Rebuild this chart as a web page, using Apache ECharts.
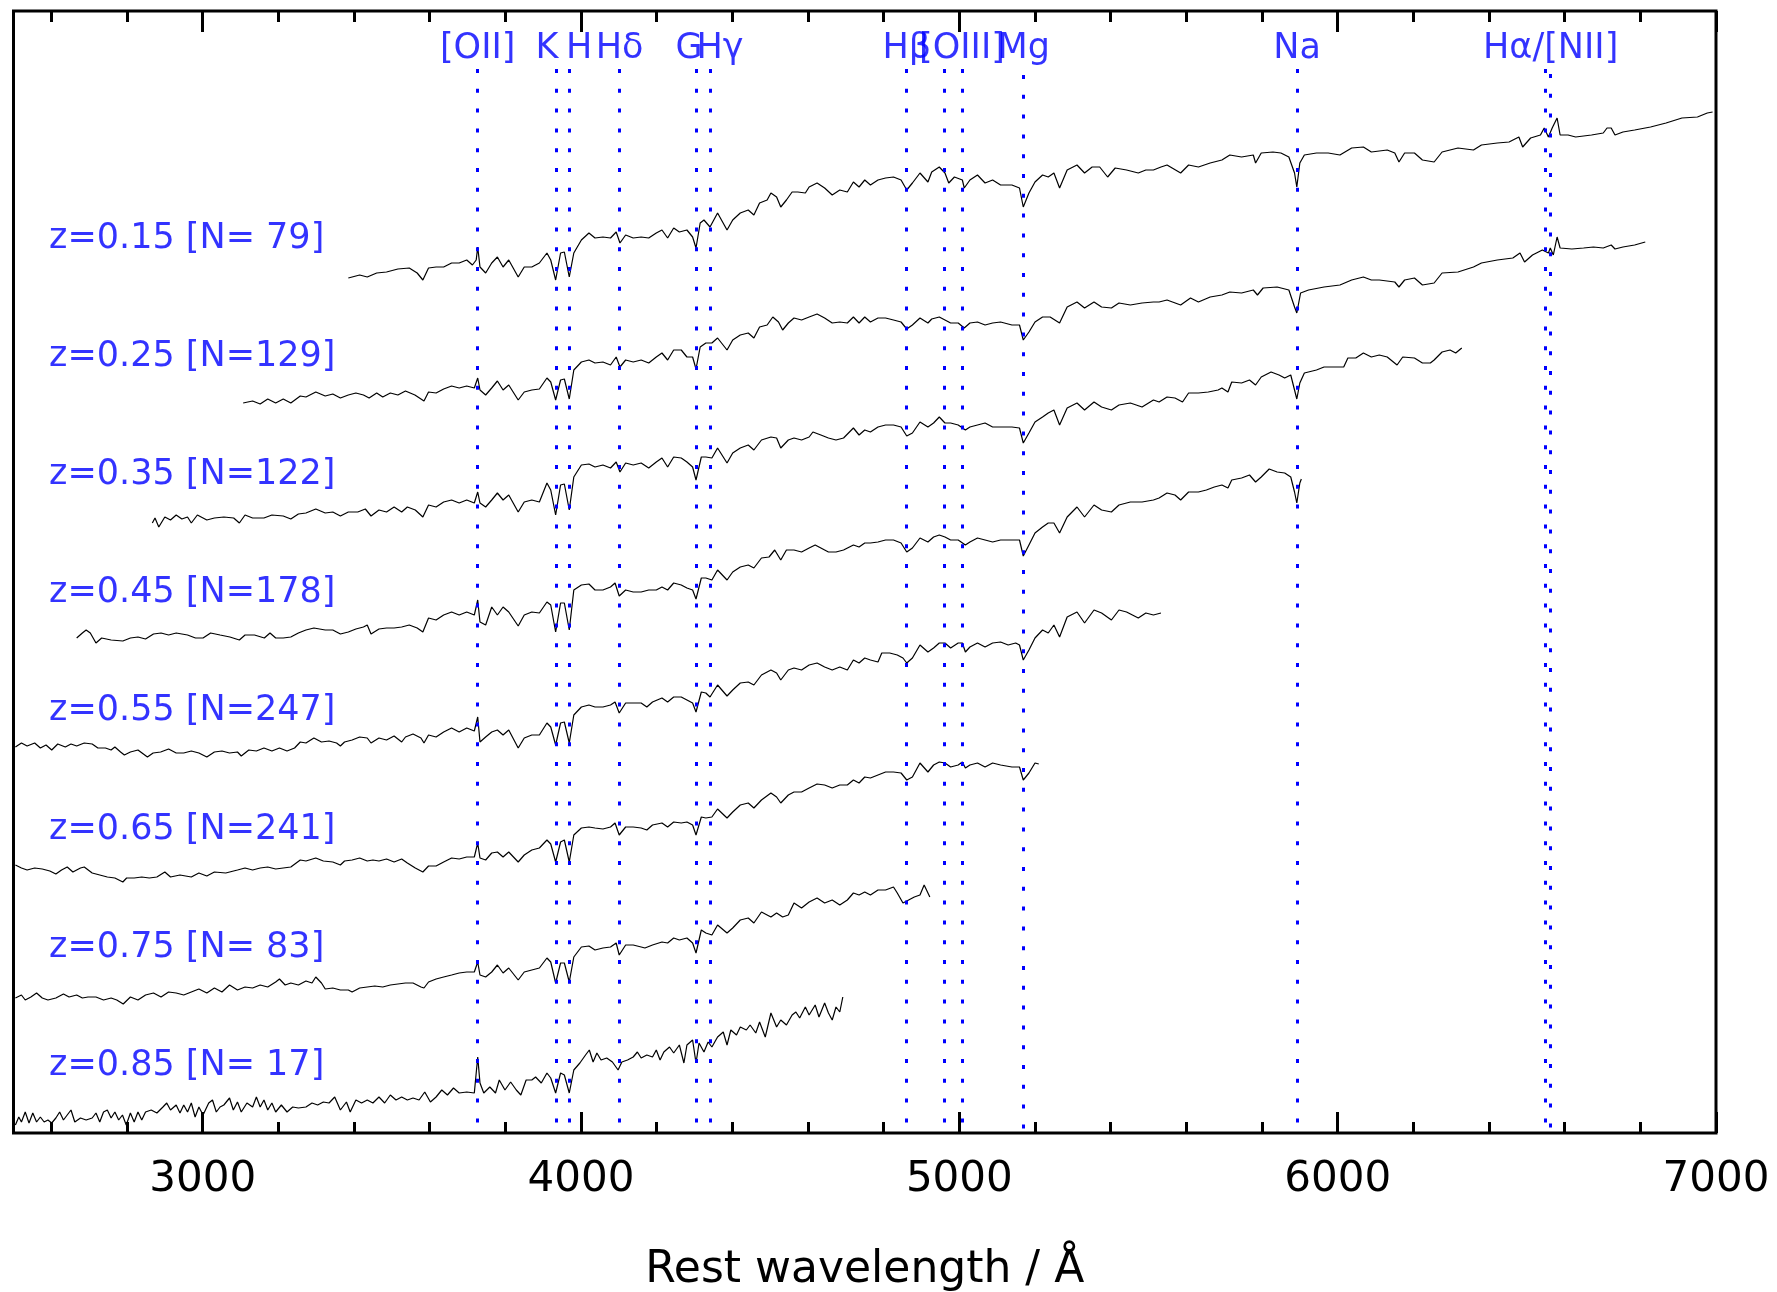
<!DOCTYPE html>
<html><head><meta charset="utf-8">
<script src="https://cdn.jsdelivr.net/npm/echarts@6/dist/echarts.min.js"></script>
<style>html,body{margin:0;padding:0;background:#fff}#c{width:1777px;height:1292px}</style>
</head><body><div id="c"></div>
<script>
// ---------------- data ----------------
const redshifts = [0.15, 0.25, 0.35, 0.45, 0.55, 0.65, 0.75, 0.85];
const counts = [79, 129, 122, 178, 247, 241, 83, 17];

const majorTicks = [3000, 4000, 5000, 6000, 7000];
const minorTicks = [2600, 2800, 3200, 3400, 3600, 3800, 4200, 4400, 4600, 4800, 5200, 5400, 5600, 5800, 6200, 6400, 6600, 6800];

// spectral features (rest wavelength, Angstrom)
const lineWavelengths = [3727, 3934, 3969, 4102, 4304, 4341, 4861, 4959, 5007, 5170, 5893, 6548, 6563];
const labelNames = ['[OII]', 'K', 'H', 'Hδ', 'G', 'Hγ', 'Hβ', '[OIII]', 'Mg', 'Na', 'Hα/[NII]'];
const labelWavelengths = [3727, 3934, 3969, 4102, 4304, 4341, 4861, 5007, 5170, 5893, 6563];

// stacked spectra: [rest wavelength, flux + offset (arbitrary units)]
const spec_z015 = [[3385,855],[3415,858],[3435,856],[3460,860],[3486,861],[3516,864],[3546,865],[3567,860],[3582,853],[3597,865],[3617,866],[3637,866],[3658,870],[3678,870],[3698,873],[3713,868],[3723,873],[3727,886],[3733,866],[3748,860],[3764,870],[3779,876],[3794,866],[3809,873],[3834,856],[3850,866],[3870,866],[3890,870],[3910,880],[3920,873],[3933,853],[3946,880],[3956,881],[3969,856],[3981,880],[4001,893],[4021,900],[4037,895],[4058,896],[4078,895],[4093,901],[4103,890],[4118,898],[4138,895],[4159,896],[4179,895],[4199,900],[4214,903],[4229,895],[4245,905],[4260,901],[4280,903],[4295,896],[4304,885],[4315,910],[4325,913],[4341,906],[4361,920],[4386,903],[4401,913],[4421,920],[4442,923],[4457,918],[4472,930],[4492,933],[4502,940],[4517,936],[4528,926],[4543,933],[4558,941],[4573,941],[4593,940],[4603,946],[4624,950],[4644,945],[4664,938],[4684,943],[4704,941],[4720,951],[4735,946],[4750,953],[4765,948],[4785,953],[4805,955],[4826,956],[4846,953],[4861,943],[4876,950],[4896,960],[4917,951],[4927,961],[4947,966],[4962,960],[4972,950],[4987,956],[5008,953],[5013,945],[5028,953],[5048,958],[5068,950],[5088,953],[5109,948],[5139,948],[5159,945],[5169,926],[5184,940],[5200,951],[5220,958],[5235,956],[5250,960],[5265,945],[5285,963],[5311,968],[5331,960],[5351,966],[5371,966],[5392,956],[5412,965],[5442,963],[5473,960],[5493,963],[5513,963],[5533,966],[5549,968],[5585,960],[5606,968],[5632,966],[5663,970],[5694,973],[5715,978],[5746,976],[5777,978],[5783,970],[5798,980],[5829,981],[5850,980],[5871,976],[5886,960],[5892,946],[5900,970],[5912,978],[5944,980],[5975,980],[6006,978],[6037,985],[6068,986],[6089,981],[6131,983],[6151,980],[6162,971],[6177,980],[6203,980],[6224,973],[6255,971],[6276,981],[6318,985],[6359,983],[6380,988],[6422,990],[6453,991],[6479,996],[6489,986],[6510,995],[6536,998],[6546,1005],[6557,996],[6567,1005],[6580,1015],[6588,998],[6609,998],[6629,996],[6671,998],[6702,1000],[6712,1005],[6723,1005],[6733,998],[6754,1001],[6785,1003],[6827,1006],[6868,1010],[6910,1015],[6951,1016],[6977,1020],[6991,1021]];

const spec_z025 = [[3107,730],[3132,732],[3152,729],[3172,734],[3193,730],[3213,734],[3233,730],[3258,737],[3273,736],[3299,741],[3324,737],[3344,739],[3364,735],[3385,738],[3405,740],[3425,738],[3440,735],[3460,740],[3476,736],[3496,740],[3516,738],[3536,742],[3561,738],[3585,732],[3597,741],[3617,740],[3637,744],[3658,747],[3678,745],[3698,747],[3718,745],[3727,755],[3733,743],[3748,738],[3764,745],[3779,752],[3794,743],[3809,748],[3834,733],[3850,741],[3870,743],[3890,744],[3910,755],[3920,751],[3933,733],[3946,753],[3956,754],[3969,734],[3981,763],[4001,771],[4021,773],[4037,770],[4058,771],[4078,768],[4093,776],[4103,766],[4118,773],[4138,771],[4159,773],[4179,770],[4199,776],[4214,780],[4229,773],[4245,783],[4265,783],[4280,776],[4295,776],[4304,764],[4315,786],[4330,790],[4346,790],[4361,795],[4386,783],[4401,793],[4421,798],[4442,800],[4457,795],[4472,806],[4492,808],[4507,816],[4522,811],[4533,803],[4548,810],[4563,815],[4583,813],[4603,816],[4624,819],[4644,815],[4664,810],[4684,811],[4704,810],[4720,816],[4735,810],[4750,816],[4765,811],[4785,815],[4805,815],[4826,813],[4846,811],[4861,804],[4876,808],[4896,815],[4917,810],[4927,814],[4947,816],[4962,813],[4977,810],[4997,810],[5013,805],[5028,810],[5048,811],[5068,808],[5088,810],[5109,811],[5139,808],[5159,808],[5169,793],[5184,801],[5200,811],[5220,816],[5240,816],[5265,810],[5285,826],[5311,831],[5331,825],[5356,831],[5376,826],[5402,825],[5422,830],[5452,828],[5483,830],[5513,831],[5528,831],[5549,833],[5585,828],[5611,835],[5632,831],[5663,836],[5694,838],[5715,841],[5746,840],[5777,843],[5788,838],[5803,845],[5840,846],[5871,843],[5886,826],[5892,820],[5902,840],[5923,843],[5964,846],[6006,848],[6037,853],[6068,856],[6089,853],[6110,853],[6151,851],[6162,846],[6177,853],[6203,855],[6224,848],[6255,850],[6276,860],[6318,861],[6359,866],[6380,870],[6422,873],[6463,875],[6482,880],[6494,871],[6515,878],[6541,883],[6557,880],[6562,885],[6570,878],[6580,896],[6588,885],[6619,884],[6650,885],[6676,886],[6702,885],[6723,888],[6733,884],[6754,886],[6785,888],[6813,891]];

const spec_z035 = [[2867,610],[2874,615],[2884,606],[2900,616],[2915,613],[2930,618],[2945,614],[2960,616],[2970,610],[2986,618],[3011,613],[3031,615],[3056,616],[3082,615],[3097,610],[3112,618],[3132,615],[3162,615],[3183,618],[3213,617],[3233,614],[3253,619],[3273,620],[3299,624],[3324,620],[3344,621],[3364,617],[3385,621],[3410,621],[3430,624],[3445,617],[3466,623],[3486,621],[3506,626],[3526,621],[3541,626],[3562,623],[3582,616],[3597,628],[3617,626],[3637,631],[3658,633],[3678,630],[3698,633],[3718,630],[3727,641],[3733,630],[3748,626],[3764,633],[3779,640],[3794,633],[3809,638],[3834,621],[3850,631],[3870,633],[3890,631],[3910,650],[3920,643],[3933,618],[3946,648],[3956,649],[3969,623],[3981,656],[4001,668],[4021,669],[4037,666],[4058,668],[4078,665],[4093,671],[4103,661],[4118,670],[4138,668],[4159,670],[4179,665],[4199,671],[4214,675],[4229,666],[4245,676],[4265,675],[4280,671],[4295,666],[4304,653],[4318,676],[4330,676],[4346,675],[4361,685],[4386,670],[4401,680],[4421,685],[4442,688],[4457,683],[4477,693],[4502,696],[4517,695],[4528,685],[4548,693],[4563,695],[4583,693],[4603,696],[4613,701],[4634,698],[4654,695],[4674,693],[4694,695],[4720,705],[4735,698],[4750,703],[4765,701],[4785,706],[4805,708],[4826,708],[4846,706],[4861,697],[4876,700],[4896,711],[4917,706],[4932,710],[4947,716],[4962,710],[4977,710],[4997,708],[5016,703],[5028,706],[5048,708],[5068,710],[5088,706],[5109,706],[5139,706],[5159,705],[5169,690],[5184,700],[5200,711],[5220,716],[5235,720],[5250,723],[5265,708],[5285,725],[5311,730],[5331,723],[5356,731],[5376,726],[5402,723],[5422,728],[5452,730],[5483,726],[5513,733],[5528,731],[5549,736],[5570,735],[5590,731],[5606,740],[5632,740],[5658,741],[5684,743],[5694,745],[5710,741],[5720,751],[5746,750],[5767,753],[5783,748],[5798,756],[5824,761],[5845,758],[5860,755],[5876,758],[5886,743],[5892,734],[5900,750],[5912,760],[5944,763],[5964,766],[5990,766],[6016,766],[6027,775],[6048,775],[6068,780],[6089,776],[6110,778],[6131,776],[6157,768],[6172,776],[6203,775],[6224,770],[6245,770],[6255,773],[6276,781],[6297,783],[6312,780],[6328,785]];

const spec_z045 = [[2667,495],[2682,500],[2692,503],[2703,500],[2718,490],[2733,495],[2758,493],[2789,492],[2809,495],[2829,496],[2849,494],[2870,499],[2890,500],[2910,498],[2930,500],[2960,498],[2981,495],[3001,495],[3021,500],[3046,498],[3072,496],[3097,493],[3112,498],[3137,498],[3163,495],[3178,500],[3193,495],[3213,495],[3233,496],[3253,500],[3273,503],[3294,505],[3324,503],[3344,503],[3364,499],[3385,501],[3405,504],[3425,506],[3435,508],[3445,499],[3466,504],[3486,505],[3506,505],[3526,506],[3546,508],[3567,505],[3582,501],[3597,515],[3617,513],[3637,518],[3658,521],[3678,518],[3698,521],[3718,518],[3727,533],[3733,511],[3748,508],[3764,526],[3779,518],[3794,526],[3809,521],[3834,507],[3850,518],[3870,521],[3890,520],[3910,531],[3920,528],[3933,501],[3946,530],[3956,530],[3969,503],[3981,543],[4001,548],[4021,549],[4037,543],[4058,543],[4078,546],[4090,550],[4101,537],[4118,543],[4138,541],[4159,541],[4179,543],[4199,543],[4214,546],[4229,543],[4245,550],[4265,548],[4280,545],[4295,543],[4304,534],[4318,555],[4330,555],[4346,553],[4361,563],[4386,553],[4401,561],[4421,566],[4442,568],[4457,565],[4477,575],[4497,576],[4512,583],[4528,573],[4543,583],[4563,583],[4583,581],[4603,585],[4619,588],[4634,585],[4654,581],[4674,581],[4694,583],[4720,588],[4735,586],[4750,590],[4765,590],[4785,591],[4805,593],[4826,593],[4846,590],[4861,581],[4876,585],[4896,595],[4917,591],[4932,596],[4947,598],[4962,596],[4977,593],[4997,593],[5016,588],[5028,591],[5048,595],[5068,593],[5088,591],[5109,593],[5139,593],[5159,593],[5169,577],[5184,588],[5200,600],[5220,606],[5235,610],[5250,610],[5265,600],[5285,616],[5311,626],[5331,616],[5356,628],[5376,623],[5402,621],[5422,628],[5452,631],[5483,631],[5513,633],[5528,635],[5549,640],[5570,638],[5585,633],[5606,641],[5632,641],[5653,643],[5674,646],[5694,648],[5710,645],[5720,653],[5746,655],[5767,658],[5783,651],[5798,656],[5819,664],[5840,661],[5860,660],[5876,656],[5886,641],[5892,630],[5900,650],[5904,654]];

const spec_z055 = [[2505,386],[2521,390],[2536,387],[2556,390],[2571,385],[2586,388],[2601,383],[2617,389],[2637,386],[2652,389],[2667,387],[2687,390],[2708,389],[2723,385],[2743,385],[2758,383],[2768,386],[2783,381],[2793,378],[2809,381],[2829,383],[2854,376],[2869,380],[2889,381],[2910,384],[2930,380],[2950,380],[2970,382],[2990,380],[3011,376],[3031,381],[3051,382],[3071,380],[3092,381],[3102,377],[3122,383],[3142,382],[3162,385],[3183,382],[3203,385],[3223,382],[3243,385],[3258,391],[3273,390],[3294,395],[3314,391],[3334,392],[3354,390],[3364,387],[3375,391],[3395,393],[3415,396],[3435,395],[3445,390],[3466,395],[3486,393],[3506,397],[3526,391],[3536,396],[3556,399],[3577,395],[3585,390],[3597,398],[3617,396],[3637,401],[3658,405],[3678,401],[3698,405],[3718,402],[3727,416],[3733,391],[3748,396],[3764,401],[3779,403],[3794,398],[3809,403],[3834,385],[3850,395],[3870,398],[3890,398],[3910,410],[3920,406],[3933,388],[3946,410],[3956,411],[3969,390],[3981,418],[4001,426],[4021,428],[4037,426],[4058,426],[4078,428],[4090,431],[4101,420],[4118,430],[4138,430],[4159,430],[4174,426],[4189,431],[4214,435],[4229,431],[4245,436],[4265,436],[4280,433],[4295,430],[4304,421],[4318,441],[4330,440],[4341,436],[4361,448],[4386,437],[4401,443],[4421,450],[4442,451],[4457,448],[4477,458],[4502,463],[4517,460],[4528,453],[4548,463],[4563,465],[4583,463],[4603,468],[4624,470],[4644,466],[4664,463],[4684,466],[4704,463],[4720,473],[4735,470],[4750,475],[4765,473],[4785,471],[4795,480],[4816,480],[4836,478],[4851,475],[4861,470],[4876,475],[4896,488],[4917,481],[4932,485],[4947,490],[4962,490],[4977,485],[4997,490],[5008,490],[5016,481],[5028,486],[5048,490],[5068,486],[5088,490],[5109,491],[5129,488],[5149,490],[5159,488],[5169,473],[5184,483],[5200,495],[5220,503],[5235,500],[5250,508],[5265,496],[5285,516],[5311,521],[5331,510],[5356,523],[5376,520],[5402,513],[5422,523],[5442,521],[5473,515],[5493,520],[5513,518],[5533,520]];

const spec_z065 = [[2505,268],[2521,265],[2536,263],[2556,265],[2576,264],[2596,262],[2612,259],[2627,263],[2642,266],[2657,261],[2677,265],[2687,266],[2708,260],[2728,258],[2748,256],[2768,255],[2789,251],[2799,255],[2819,255],[2839,256],[2859,255],[2879,256],[2900,261],[2915,256],[2940,258],[2970,256],[2990,260],[3011,257],[3031,261],[3061,260],[3092,263],[3112,265],[3132,263],[3152,265],[3172,266],[3193,264],[3213,265],[3233,266],[3258,273],[3273,272],[3299,275],[3319,272],[3344,271],[3364,268],[3375,272],[3395,273],[3415,275],[3435,272],[3450,273],[3466,272],[3486,274],[3506,271],[3526,274],[3541,270],[3562,265],[3582,261],[3597,267],[3617,267],[3637,271],[3658,275],[3678,274],[3698,276],[3718,276],[3727,290],[3733,275],[3748,273],[3764,280],[3779,281],[3794,276],[3809,281],[3834,271],[3850,278],[3870,283],[3890,285],[3910,293],[3920,289],[3933,271],[3946,291],[3956,293],[3969,271],[3981,298],[4001,305],[4021,306],[4037,305],[4058,304],[4078,306],[4090,310],[4101,298],[4118,306],[4138,306],[4159,305],[4174,303],[4189,308],[4214,310],[4229,306],[4245,311],[4265,310],[4280,311],[4295,308],[4304,298],[4318,316],[4330,315],[4346,316],[4361,324],[4386,315],[4401,321],[4421,328],[4442,330],[4457,325],[4477,333],[4502,340],[4517,336],[4528,330],[4548,338],[4563,341],[4583,341],[4603,345],[4624,349],[4644,348],[4664,345],[4684,348],[4704,348],[4720,353],[4735,350],[4750,356],[4765,355],[4785,358],[4805,361],[4826,361],[4846,360],[4861,353],[4876,356],[4896,370],[4917,361],[4932,368],[4947,371],[4962,370],[4977,366],[4997,368],[5008,371],[5016,365],[5028,368],[5048,370],[5068,366],[5088,370],[5109,368],[5139,366],[5159,366],[5169,353],[5184,360],[5200,370],[5210,369]];

const spec_z075 = [[2505,135],[2521,138],[2531,133],[2546,136],[2561,140],[2576,135],[2591,133],[2612,135],[2632,139],[2647,136],[2667,138],[2682,135],[2697,136],[2718,136],[2738,133],[2758,135],[2773,133],[2790,129],[2809,136],[2829,133],[2849,138],[2870,140],[2890,136],[2910,141],[2930,140],[2950,138],[2970,141],[2990,144],[3011,140],[3031,145],[3051,141],[3071,148],[3092,143],[3112,146],[3132,145],[3152,148],[3172,146],[3193,151],[3203,154],[3218,148],[3233,150],[3253,148],[3273,152],[3289,150],[3299,156],[3314,150],[3324,144],[3344,145],[3364,143],[3385,143],[3395,141],[3415,145],[3435,146],[3455,147],[3476,146],[3496,148],[3516,149],[3536,150],[3556,150],[3577,146],[3585,145],[3597,151],[3617,154],[3637,156],[3658,158],[3678,160],[3698,161],[3718,161],[3727,171],[3733,158],[3748,156],[3764,161],[3779,168],[3794,160],[3809,165],[3834,153],[3850,161],[3870,163],[3890,165],[3910,175],[3920,171],[3933,150],[3946,170],[3956,170],[3969,151],[3981,176],[4001,186],[4021,187],[4037,183],[4058,185],[4078,186],[4093,190],[4101,178],[4118,188],[4138,188],[4159,186],[4169,185],[4189,188],[4214,191],[4229,190],[4245,195],[4260,193],[4280,195],[4295,190],[4304,180],[4318,203],[4330,200],[4346,198],[4361,208],[4386,200],[4401,205],[4421,213],[4442,215],[4457,210],[4477,221],[4502,216],[4517,220],[4533,216],[4548,218],[4563,230],[4583,225],[4603,231],[4624,235],[4644,230],[4664,233],[4684,228],[4704,233],[4720,240],[4735,238],[4750,241],[4765,238],[4785,243],[4805,243],[4826,246],[4836,240],[4851,230],[4866,233],[4881,236],[4896,238],[4907,248],[4922,236]];

const spec_z085 = [[2505,8],[2514,16],[2521,11],[2531,21],[2541,10],[2551,20],[2561,11],[2571,16],[2581,11],[2591,13],[2601,10],[2612,15],[2622,21],[2632,13],[2642,18],[2652,23],[2662,11],[2677,15],[2692,13],[2708,15],[2718,20],[2728,11],[2738,21],[2748,23],[2758,15],[2768,21],[2778,13],[2788,18],[2798,8],[2809,20],[2819,11],[2829,21],[2839,13],[2849,21],[2864,23],[2879,20],[2895,26],[2905,30],[2915,23],[2930,28],[2940,20],[2950,28],[2960,21],[2970,30],[2980,16],[2990,26],[3001,18],[3016,30],[3026,33],[3036,21],[3046,26],[3056,28],[3071,35],[3081,23],[3092,31],[3102,21],[3117,30],[3132,26],[3142,36],[3152,26],[3162,33],[3172,23],[3183,30],[3193,21],[3208,28],[3223,21],[3238,26],[3253,25],[3273,26],[3289,30],[3304,28],[3319,31],[3334,30],[3349,36],[3364,23],[3380,31],[3390,21],[3405,33],[3420,30],[3435,33],[3450,30],[3466,36],[3481,30],[3496,38],[3511,33],[3526,36],[3541,33],[3556,35],[3572,33],[3587,41],[3602,31],[3617,36],[3632,43],[3647,38],[3663,45],[3678,40],[3698,41],[3718,40],[3727,76],[3733,50],[3743,40],[3759,46],[3774,40],[3784,53],[3799,43],[3814,51],[3829,43],[3841,38],[3855,53],[3870,53],[3880,56],[3895,50],[3910,60],[3920,55],[3933,40],[3946,60],[3956,58],[3969,40],[3981,63],[3997,70],[4012,78],[4022,83],[4032,71],[4042,80],[4053,73],[4068,75],[4083,71],[4098,63],[4108,71],[4123,73],[4138,76],[4149,81],[4159,75],[4174,78],[4189,76],[4199,83],[4209,73],[4219,81],[4234,86],[4245,80],[4260,88],[4272,70],[4280,88],[4295,93],[4304,70],[4312,90],[4325,81],[4336,91],[4346,86],[4361,96],[4376,101],[4386,88],[4396,103],[4411,98],[4421,106],[4437,103],[4447,108],[4462,100],[4472,111],[4487,96],[4502,120],[4517,106],[4528,113],[4543,108],[4558,118],[4568,121],[4578,115],[4593,126],[4603,118],[4619,128],[4629,116],[4644,130],[4654,120],[4664,113],[4674,126],[4684,121],[4692,136]];

// ---------------- chart ----------------
const spectra = [spec_z015, spec_z025, spec_z035, spec_z045, spec_z055, spec_z065, spec_z075, spec_z085];
const FONT = 'DejaVu Sans';
const BLUE = '#0000ff';
const Y_MAX = 1122;
const LINE_TOP = 1064;             // top of dotted marker lines
const LABEL_Y = 1084;              // feature label row
const Z_LABEL_X = 2594;            // left edge of redshift labels
const Z_LABEL_Y0 = 894.5, Z_LABEL_STEP = 118.2;
const labelShiftPx = {'K': -9, 'H': 10, 'G': -7, 'Hγ': 10};
const lineTopShift = {5170: 6, 6563: 5};

const zLabelText = redshifts.map((z, i) => 'z=' + z.toFixed(2) + ' [N=' + String(counts[i]).padStart(3, ' ') + ']');

const series = spectra.map((d, i) => ({
  type: 'line', name: zLabelText[i], data: d, showSymbol: false, symbol: 'none',
  lineStyle: { color: '#000', width: 1.2 }, silent: true, z: 2, animation: false
}));

series.push({
  type: 'line', data: [], silent: true, z: 4, animation: false,
  markLine: {
    symbol: ['none', 'none'], silent: true, animation: false,
    label: { show: false }, emphasis: { disabled: true },
    lineStyle: { color: BLUE, width: 3, type: [4, 15.8], cap: 'butt' },
    data: lineWavelengths.map(w => [{ coord: [w, LINE_TOP - (lineTopShift[w] || 0)] }, { coord: [w, 0] }])
  }
});

series.push({
  type: 'scatter', symbolSize: 1, itemStyle: { color: 'rgba(0,0,0,0)' }, silent: true, z: 5, animation: false,
  data: labelNames.map((n, i) => ({ name: n, value: [labelWavelengths[i], LABEL_Y], label: { offset: [labelShiftPx[n] || 0, 0] } })),
  label: { show: true, position: 'inside', formatter: '{b}', color: BLUE, fontSize: 35, fontFamily: FONT, align: 'center', verticalAlign: 'middle' }
});

series.push({
  type: 'scatter', symbolSize: 1, itemStyle: { color: 'rgba(0,0,0,0)' }, silent: true, z: 5, animation: false,
  data: zLabelText.map((t, i) => ({ name: t, value: [Z_LABEL_X, Z_LABEL_Y0 - i * Z_LABEL_STEP] })),
  label: { show: true, position: 'inside', formatter: '{b}', color: BLUE, fontSize: 35, fontFamily: FONT, align: 'left', verticalAlign: 'middle' }
});

const baseX = { type: 'value', min: 2500, max: 7000, axisLine: { show: false }, splitLine: { show: false } };

const option = {
  animation: false,
  backgroundColor: '#fff',
  grid: { left: 13.5, right: 61, top: 11, bottom: 159, show: true, borderColor: '#000', borderWidth: 3, containLabel: false, outerBoundsMode: 'none' },
  xAxis: [
    Object.assign({}, baseX, {
      position: 'bottom',
      axisTick: { show: true, inside: true, length: 21, lineStyle: { color: '#000', width: 3 }, customValues: majorTicks },
      axisLabel: { show: true, customValues: majorTicks, formatter: v => String(v), color: '#000', fontSize: 42, fontFamily: FONT, margin: 26 },
      name: 'Rest wavelength / Å', nameLocation: 'middle', nameGap: 116,
      nameTextStyle: { color: '#000', fontSize: 44, fontFamily: FONT }
    }),
    Object.assign({}, baseX, {
      position: 'bottom',
      axisTick: { show: true, inside: true, length: 11, lineStyle: { color: '#000', width: 3 }, customValues: minorTicks },
      axisLabel: { show: false }
    }),
    Object.assign({}, baseX, {
      position: 'top',
      axisTick: { show: true, inside: true, length: 21, lineStyle: { color: '#000', width: 3 }, customValues: majorTicks },
      axisLabel: { show: false }
    }),
    Object.assign({}, baseX, {
      position: 'top',
      axisTick: { show: true, inside: true, length: 11, lineStyle: { color: '#000', width: 3 }, customValues: minorTicks },
      axisLabel: { show: false }
    })
  ],
  yAxis: { type: 'value', min: 0, max: Y_MAX, show: false },
  series: series
};

const chart = echarts.init(document.getElementById('c'), null, { renderer: 'canvas', width: 1777, height: 1292 });
chart.setOption(option);
</script>
</body></html>
